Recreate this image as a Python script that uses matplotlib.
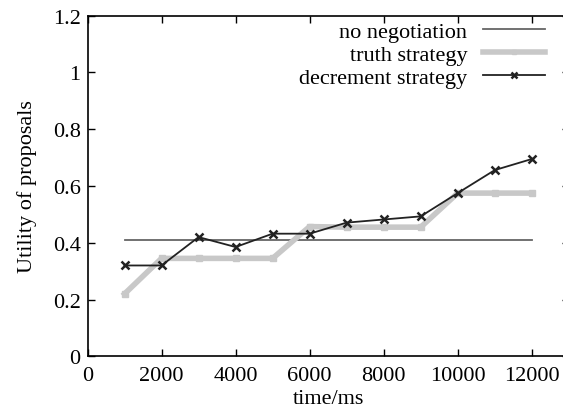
import numpy as np
import matplotlib
matplotlib.use("Agg")
import matplotlib.pyplot as plt

plt.rcParams['font.family'] = ['Liberation Serif', 'DejaVu Serif']

# data
time_ms = [1000, 2000, 3000, 4000, 5000, 6000, 7000, 8000, 9000, 10000, 11000, 12000]
no_negotiation = [0.41] * len(time_ms)
truth = [0.22, 0.345, 0.345, 0.345, 0.345, 0.457, 0.455, 0.455, 0.455, 0.575, 0.575, 0.575]
decrement = [0.32, 0.32, 0.42, 0.385, 0.432, 0.432, 0.471, 0.482, 0.493, 0.575, 0.656, 0.695]

W, H = 563, 414
fig = plt.figure(figsize=(W / 100, H / 100), dpi=100)
# the original frame is cut off on the right, x axis runs past 12000
x0, x_per_k = 87.5, 37.02
xmax = 13000
ax = fig.add_axes([x0 / W, (H - 357.3) / H, x_per_k * xmax / 1000 / W, 340.6 / H])

ax.plot(time_ms, no_negotiation, color='#666666', lw=1.3, label='no negotiation')
ax.plot(time_ms, truth, color='#c8c8c8', lw=4, marker='s', ms=4, label='truth strategy')
ax.plot(time_ms, decrement, color='#222222', lw=1.3, marker='x', ms=6, mew=1.8, label='decrement strategy')

fs = 16
ax.set_xlim(0, xmax)
ax.set_ylim(0, 1.2)
ax.set_xticks(np.arange(0, 12001, 2000))
ax.set_yticks([0, 0.2, 0.4, 0.6, 0.8, 1.0, 1.2])
ax.set_yticklabels(['0', '0.2', '0.4', '0.6', '0.8', '1', '1.2'])
ax.tick_params(direction='in', top=True, right=True, labelsize=fs, length=5, width=1)
ax.tick_params(axis='x', pad=7)
ax.tick_params(axis='y', pad=5)
for s in ax.spines.values():
    s.set_linewidth(1.2)

ax.set_xlabel('time/ms', fontsize=fs, labelpad=3)
ax.set_ylabel('Utility of proposals', fontsize=fs, labelpad=11)

leg = ax.legend(loc='upper right', bbox_to_anchor=(545 / W, (H - 22) / H),
                bbox_transform=fig.transFigure, frameon=False, markerfirst=False,
                fontsize=fs, handlelength=2.8, labelspacing=0.12, borderaxespad=0.0,
                borderpad=0.0, handletextpad=0.7, markerscale=0.8)

fig.savefig('out.png', dpi=100)
